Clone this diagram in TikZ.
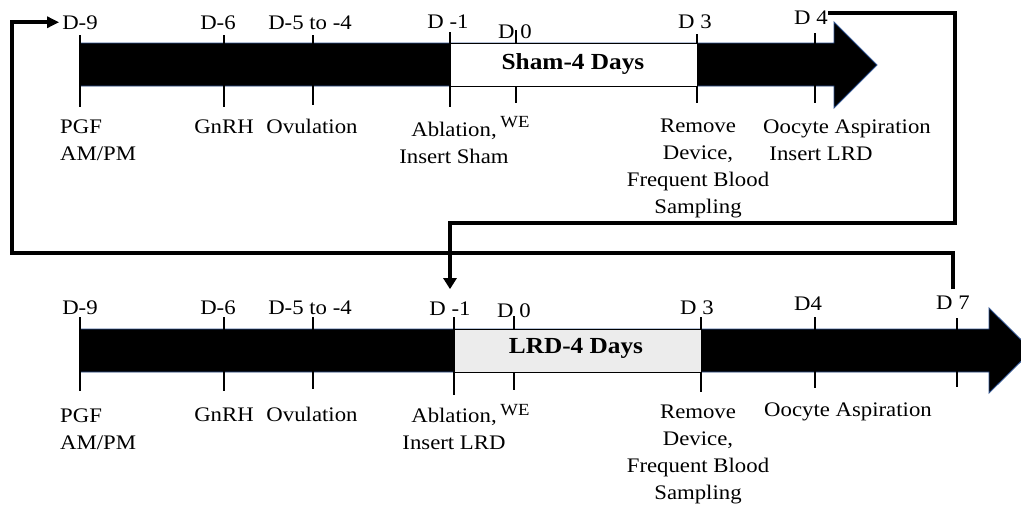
\documentclass[tikz,border=0pt]{standalone}
\usepackage{fontspec}
\setmainfont{Liberation Serif}[FakeStretch=1.1]
\usetikzlibrary{arrows.meta}
\definecolor{barline}{RGB}{47,82,143}
\begin{document}
\begin{tikzpicture}[x=1pt,y=-1pt,
  lbl/.style={font=\fontsize{20.7}{27}\selectfont,inner sep=0pt,anchor=base,align=center},
  lblleft/.style={lbl,align=left,anchor=base west},
  supl/.style={font=\fontsize{17}{20}\selectfont,inner sep=0pt,anchor=base},
  phase/.style={font=\fontsize{23}{27}\selectfont\bfseries,inner sep=0pt},
  tick/.style={line width=1.1pt},
  link/.style={line width=4pt},
  bar/.style={fill=black,draw=barline,line width=0.9pt}]
  \path[clip] (0,0) rectangle (1021,504);
  % sham timeline
  \draw[bar] (80,43) -- (834,43) -- (834,22) -- (877,65) -- (834,108) -- (834,86) -- (80,86) -- cycle;
  \foreach \x/\a/\b in {80/35/107,224/35/107,313/35/105,450/32/107,516/30/103,697/34/103,815/33/103}
    \draw[tick] (\x,\a) -- (\x,\b);
  \draw[fill=white,line width=0.9pt] (450,43) rectangle (697,86);
  \node[phase] (sham) at (573,64) {Sham-4 Days};
  \node[lbl] (tD9) at (80,29) {D-9};
  \node[lbl] (tD6) at (218,29) {D-6};
  \node[lbl] (tD5) at (310,29) {D-5 to -4};
  \node[lbl] (tDm1) at (448,28) {D -1};
  \node[lbl] (tD0) at (515,38) {D 0};
  \node[lbl] (tD3) at (695,28) {D 3};
  \node[lbl] (tD4) at (811,24) {D 4};
  \node[lblleft] (tPGF) at (60,160) {PGF\\AM/PM};
  \node[lbl] (tGnRH) at (224,133) {GnRH};
  \node[lbl] (tOvu) at (312,133) {Ovulation};
  \node[lbl] (tAbl) at (454,163) {Ablation,\\Insert Sham};
  \node[supl] (tWE) at (515,127) {WE};
  \node[lbl] (tRem) at (698,213) {Remove\\Device,\\Frequent Blood\\Sampling};
  \node[lbl] (tOoc) at (847,133) {Oocyte Aspiration};
  \node[lbl] (tIns) at (821,160) {Insert LRD};
  % LRD timeline
  \draw[bar] (80,329) -- (989,329) -- (989,308) -- (1032,350.5) -- (989,393) -- (989,372) -- (80,372) -- cycle;
  \foreach \x/\a/\b in {80/317/391,224/317/391,313/317/389,454/317/395,514/316/390,701/317/392,815/317/388,957/318/387}
    \draw[tick] (\x,\a) -- (\x,\b);
  \draw[fill=gray!15,line width=0.9pt] (454,329) rectangle (701,372);
  \node[phase] (lrd) at (576,348) {LRD-4 Days};
  \node[lbl] (bD9) at (80,314) {D-9};
  \node[lbl] (bD6) at (218,314) {D-6};
  \node[lbl] (bD5) at (310,314) {D-5 to -4};
  \node[lbl] (bDm1) at (450,315) {D -1};
  \node[lbl] (bD0) at (514,317) {D 0};
  \node[lbl] (bD3) at (697,314) {D 3};
  \node[lbl] (bD4) at (808,310) {D4};
  \node[lbl] (bD7) at (953,309) {D 7};
  \node[lblleft] (bPGF) at (60,449) {PGF\\AM/PM};
  \node[lbl] (bGnRH) at (224,421) {GnRH};
  \node[lbl] (bOvu) at (312,421) {Ovulation};
  \node[lbl] (bAbl) at (454,449) {Ablation,\\Insert LRD};
  \node[supl] (bWE) at (515,415) {WE};
  \node[lbl] (bRem) at (698,499) {Remove\\Device,\\Frequent Blood\\Sampling};
  \node[lbl] (bOoc) at (848,416) {Oocyte Aspiration};
  % links between the timelines
  \coordinate (turnR) at (955,223);
  \coordinate (loopL) at (12,253);
  \draw[link,-{Triangle[length=11pt,width=13pt]}] ([yshift=4pt]tD4.east) -| (turnR) -| ([yshift=12pt]bDm1.north);
  \draw[link,-{Triangle[length=12pt,width=11pt]}] ([yshift=6pt]bD7.north) |- (loopL) |- ([xshift=-3pt]tD9.west);
\end{tikzpicture}
\end{document}
